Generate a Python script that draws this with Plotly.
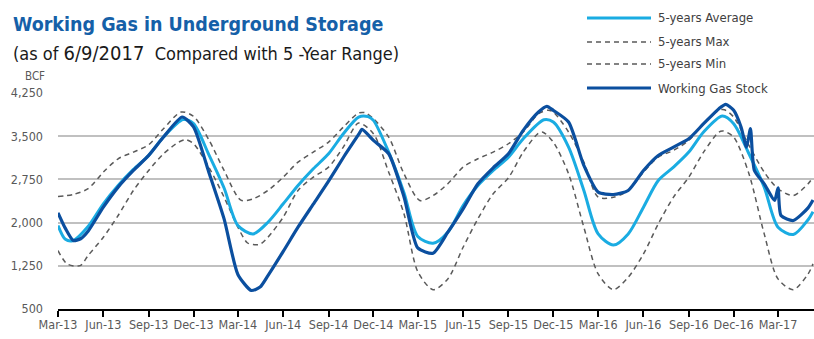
import plotly.graph_objects as go

# ---------------- data ----------------
stock_dates = ["2013-03-01","2013-03-16","2013-04-01","2013-04-16","2013-05-01","2013-06-01","2013-07-01",
               "2013-08-01","2013-09-01","2013-10-01","2013-11-08","2013-12-01","2014-01-01","2014-02-01",
               "2014-03-01","2014-03-28","2014-04-15","2014-05-01","2014-06-01","2014-07-01","2014-08-01",
               "2014-09-01","2014-10-01","2014-11-01","2014-11-08","2014-12-01","2015-01-01","2015-02-01",
               "2015-03-01","2015-04-01","2015-05-01","2015-06-01","2015-07-01","2015-08-01","2015-09-01",
               "2015-10-01","2015-11-01","2015-11-18","2015-12-01","2016-01-01","2016-02-01","2016-03-01",
               "2016-04-01","2016-05-01","2016-06-01","2016-07-01","2016-08-01","2016-09-01","2016-10-01",
               "2016-11-01","2016-11-15","2016-12-01","2016-12-16","2016-12-27","2017-01-04","2017-01-12",
               "2017-02-01","2017-02-22","2017-03-01","2017-03-07","2017-04-01","2017-05-01","2017-05-11"]
stock_vals = [2170,1900,1690,1720,1850,2268,2616,
              2905,3166,3485,3833,3660,2876,2065,
              1100,822,880,1080,1500,1920,2320,
              2720,3130,3530,3618,3427,3195,2450,
              1560,1468,1833,2239,2673,2951,3195,
              3601,3920,4018,3949,3746,2992,2529,
              2488,2558,2905,3166,3311,3456,3717,
              3978,4053,3949,3659,3311,3630,2905,
              2674,2384,2604,2123,2036,2256,2392]

avg_dates = ["2013-03-01","2013-03-16","2013-04-01","2013-05-01","2013-06-01","2013-07-01","2013-08-01",
             "2013-09-01","2013-10-01","2013-11-10","2013-12-01","2014-01-01","2014-02-01","2014-03-01",
             "2014-04-01","2014-05-01","2014-06-01","2014-07-01","2014-08-01","2014-09-01","2014-10-01",
             "2014-11-01","2014-11-20","2014-12-01","2015-01-01","2015-02-01","2015-03-01","2015-04-01",
             "2015-05-01","2015-06-01","2015-07-01","2015-08-01","2015-09-01","2015-10-01","2015-11-12",
             "2015-12-01","2016-01-01","2016-02-01","2016-03-01","2016-04-01","2016-05-01","2016-06-01",
             "2016-07-01","2016-08-01","2016-09-01","2016-10-01","2016-11-08","2016-12-01","2017-01-01",
             "2017-02-01","2017-03-01","2017-04-01","2017-05-01","2017-05-11"]
avg_vals = [1950,1710,1690,1932,2326,2645,2923,
            3166,3485,3790,3717,3180,2600,1949,
            1804,2007,2326,2645,2934,3195,3543,
            3833,3840,3775,3224,2520,1760,1642,
            1833,2297,2645,2905,3137,3456,3786,
            3746,3311,2558,1804,1610,1804,2268,
            2731,2963,3224,3572,3850,3717,3195,
            2616,1920,1793,2050,2190]

max_dates = ["2013-03-01","2013-04-01","2013-05-01","2013-06-01","2013-07-01","2013-08-01","2013-09-01",
             "2013-10-01","2013-11-06","2013-12-01","2014-01-01","2014-02-01","2014-03-07","2014-04-01",
             "2014-05-01","2014-06-01","2014-07-01","2014-08-01","2014-09-01","2014-10-01","2014-11-01",
             "2014-11-15","2014-12-01","2015-01-01","2015-02-01","2015-03-05","2015-04-01","2015-05-01",
             "2015-06-01","2015-07-01","2015-08-01","2015-09-01","2015-10-01","2015-11-01","2015-11-20",
             "2015-12-01","2016-01-01","2016-02-01","2016-03-01","2016-04-01","2016-05-01","2016-06-01",
             "2016-07-01","2016-08-01","2016-09-01","2016-10-01","2016-11-01","2016-11-12","2016-12-01",
             "2017-01-01","2017-02-01","2017-03-01","2017-04-01","2017-05-01","2017-05-11"]
max_vals = [2453,2488,2590,2876,3108,3224,3352,
            3630,3920,3844,3439,2905,2390,2413,
            2558,2789,3050,3224,3398,3659,3902,
            3905,3804,3485,2847,2384,2470,2674,
            2963,3108,3224,3369,3572,3891,3950,
            3920,3572,3050,2442,2440,2558,2876,
            3137,3253,3427,3717,3949,3960,3833,
            3340,2876,2587,2471,2674,2789]

min_dates = ["2013-03-01","2013-03-20","2013-04-15","2013-05-01","2013-06-01","2013-07-01","2013-08-01",
             "2013-09-01","2013-10-01","2013-11-01","2013-11-15","2013-12-01","2014-01-01","2014-02-01",
             "2014-03-01","2014-03-20","2014-04-01","2014-04-15","2014-05-01","2014-06-01","2014-07-01",
             "2014-08-01","2014-09-01","2014-10-01","2014-11-01","2014-12-01","2015-01-01","2015-02-01",
             "2015-03-01","2015-04-01","2015-05-01","2015-06-01","2015-07-01","2015-08-01","2015-09-01",
             "2015-10-01","2015-11-01","2015-11-10","2015-12-01","2016-01-01","2016-02-01","2016-03-01",
             "2016-04-01","2016-05-01","2016-06-01","2016-07-01","2016-08-01","2016-09-01","2016-10-01",
             "2016-11-01","2016-11-10","2016-12-01","2017-01-01","2017-02-01","2017-03-01","2017-04-01",
             "2017-05-01","2017-05-11"]
min_vals = [1514,1280,1253,1427,1746,2123,2558,
            2905,3195,3398,3440,3369,2963,2442,
            1920,1650,1619,1625,1746,2094,2558,
            2789,2963,3311,3728,3543,2876,2152,
            1150,836,1022,1572,2065,2500,2778,
            3224,3554,3570,3398,2847,1920,1109,
            836,1051,1456,1978,2442,2789,3224,
            3572,3590,3485,2847,1804,1022,836,
            1109,1283]

tick_dates = ["2013-03-01","2013-06-01","2013-09-01","2013-12-01","2014-03-01","2014-06-01",
              "2014-09-01","2014-12-01","2015-03-01","2015-06-01","2015-09-01","2015-12-01",
              "2016-03-01","2016-06-01","2016-09-01","2016-12-01","2017-03-01"]
tick_labels = ["Mar-13","Jun-13","Sep-13","Dec-13","Mar-14","Jun-14","Sep-14","Dec-14","Mar-15",
               "Jun-15","Sep-15","Dec-15","Mar-16","Jun-16","Sep-16","Dec-16","Mar-17"]
y_ticks = [500, 1250, 2000, 2750, 3500, 4250]
y_labels = ["500", "1,250", "2,000", "2,750", "3,500", "4,250"]

legend_names = ["5-years Average", "5-years Max", "5-years Min", "Working Gas Stock"]

# ---------------- styling ----------------
W, H = 814, 339
L, R, T, B = 58, 0, 93, 30
FONT = "'Liberation Sans Narrow', 'DejaVu Sans Condensed', 'Roboto Condensed', Roboto, sans-serif"
C_AVG = "#1aace2"
C_STOCK = "#0b4f9f"
C_DASH = "#5a5a5a"
C_TEXT = "#404040"


def px(x):
    return (x - L) / (W - L - R)


def py(y):
    return (H - B - y) / (H - T - B)


fig = go.Figure()
fig.add_trace(go.Scatter(x=max_dates, y=max_vals, mode="lines", name=legend_names[1],
                         line=dict(color=C_DASH, width=1.5, dash="5px,4px", shape="spline", smoothing=0.8)))
fig.add_trace(go.Scatter(x=min_dates, y=min_vals, mode="lines", name=legend_names[2],
                         line=dict(color=C_DASH, width=1.5, dash="5px,4px", shape="spline", smoothing=0.8)))
fig.add_trace(go.Scatter(x=avg_dates, y=avg_vals, mode="lines", name=legend_names[0],
                         line=dict(color=C_AVG, width=3, shape="spline", smoothing=0.8)))
fig.add_trace(go.Scatter(x=stock_dates, y=stock_vals, mode="lines", name=legend_names[3],
                         line=dict(color=C_STOCK, width=3.2, shape="spline", smoothing=0.6)))

# manual legend (long line samples like the original)
rows = [18, 42, 64, 88]
styles = [dict(color=C_AVG, width=3), dict(color=C_DASH, width=1.5, dash="5px,4px"),
          dict(color=C_DASH, width=1.5, dash="5px,4px"), dict(color=C_STOCK, width=3.2)]
shapes = []
annotations = []
for name, yy, st in zip(legend_names, rows, styles):
    shapes.append(dict(type="line", xref="paper", yref="paper", x0=px(587), x1=px(651),
                       y0=py(yy), y1=py(yy), line=st))
    annotations.append(dict(text=name, xref="paper", yref="paper", x=px(656), y=py(yy),
                            xanchor="left", yanchor="middle", showarrow=False,
                            font=dict(family=FONT, size=13, color=C_TEXT)))

annotations.append(dict(text="<b>Working Gas in Underground Storage</b>", xref="paper", yref="paper",
                        x=px(11), y=py(25), xanchor="left", yanchor="middle", showarrow=False,
                        font=dict(family=FONT, size=19.5, color="#1560a8")))
annotations.append(dict(text="(as of <span style='font-size:20px'>6/9/2017</span>  Compared with 5 -Year Range)",
                        xref="paper", yref="paper", x=px(11), y=py(53), xanchor="left", yanchor="middle",
                        showarrow=False, font=dict(family=FONT, size=18, color="#1a1a1a")))
annotations.append(dict(text="BCF", xref="paper", yref="paper", x=px(35), y=py(76), xanchor="center",
                        yanchor="middle", showarrow=False, font=dict(family=FONT, size=11.5, color="#595959")))

fig.update_layout(
    width=W, height=H,
    margin=dict(l=L, r=R, t=T, b=B, pad=0),
    paper_bgcolor="white", plot_bgcolor="white",
    showlegend=False,
    shapes=shapes, annotations=annotations,
    font=dict(family=FONT, size=12, color="#595959"),
)
fig.update_xaxes(type="date", range=["2013-03-01", "2017-05-13"], tickvals=tick_dates, ticktext=tick_labels,
                 tickangle=0, showgrid=False, showline=True, linecolor="black", linewidth=2,
                 ticks="outside", ticklen=6, tickwidth=1.5, tickcolor="black", ticklabelstandoff=-3,
                 tickfont=dict(family=FONT, size=12.5, color="#595959"), zeroline=False)
fig.update_yaxes(range=[500, 4250], tickvals=y_ticks, ticktext=y_labels, showgrid=True,
                 gridcolor="#c0c0c0", gridwidth=1.6, zeroline=False, showline=False, ticks="",
                 ticklabelstandoff=14, tickfont=dict(family=FONT, size=12.5, color="#595959"))

fig.write_html("out.html")
